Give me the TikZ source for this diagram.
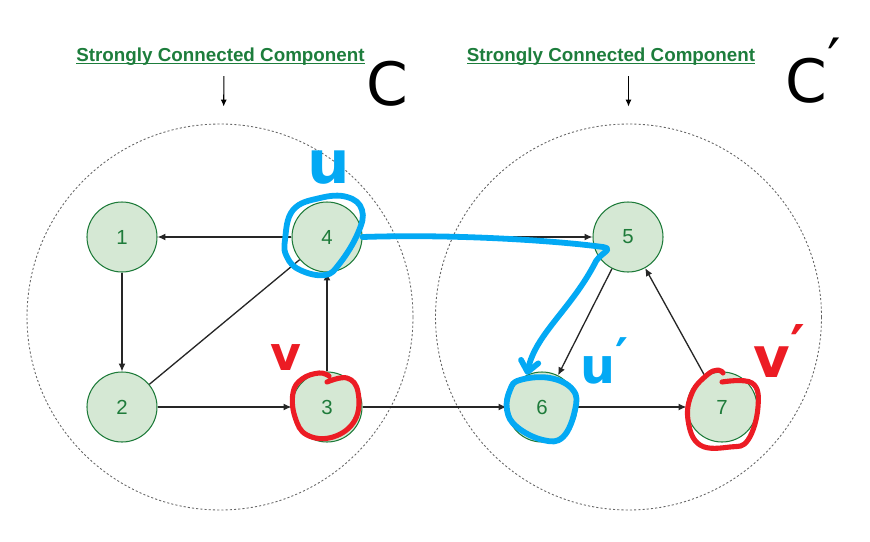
\documentclass[tikz,border=0pt]{standalone}
\usepackage{fontspec}
\setmainfont{Liberation Sans}
\newfontfamily\handfont{DejaVu Sans}
\usetikzlibrary{arrows.meta,positioning}
\definecolor{nodefill}{HTML}{D5E8D4}
\definecolor{nodeline}{HTML}{1E7B3A}
\definecolor{sccgreen}{HTML}{1D7D3C}
\definecolor{penblue}{HTML}{03A9F4}
\definecolor{penred}{HTML}{EC1C24}
\newcommand{\sccline}[1]{\underline{\raisebox{0pt}[\height][0pt]{#1}}}

\begin{document}
\begin{tikzpicture}
	[vertex/.style ={circle, draw=nodeline, fill=nodefill, text=nodeline, minimum size=1.4cm, inner sep=0pt, line width=0.6pt, font=\fontsize{11.6}{12}\selectfont},
	line/.style ={black!85, line width=0.75pt, -{Latex[length=4.5pt,width=4pt]}},
	thinline/.style ={black, line width=0.6pt, -{Latex[length=4pt,width=3.5pt]}, shorten <=3pt},
	scc/.style ={circle, draw=black!60, dash pattern=on 1.2pt off 1.2pt, line width=0.5pt, minimum size=7.72cm, inner sep=0pt},
	title/.style ={text=sccgreen, font=\bfseries\fontsize{10.7}{12}\selectfont},
	bigmark/.style ={inner sep=0pt, anchor=base west, font=\handfont\fontsize{#1}{#1}\selectfont},
	bigmark/.default=34,
	penmark/.style ={bigmark=#1, font=\handfont\bfseries\fontsize{#1}{#1}\selectfont},
	bluepen/.style ={draw=penblue, line width=3.3pt, line cap=round, line join=round},
	redpen/.style ={draw=penred, line width=2.9pt, line cap=round, line join=round},
	]
		\useasboundingbox (0,0) rectangle (17.4,-10.82);

		\draw (4.4,-6.34) node[scc] (S1) {};
		\draw (12.57,-6.34) node[scc] (S2) {};

		\draw (4.41,-1.12) node[title] (T1) {\sccline{Strongly Connected Component}};
		\draw (12.22,-1.12) node[title] (T2) {\sccline{Strongly Connected Component}};
		\draw (7.32,-2.1) node[bigmark=34] (C1) {C};
		\draw (15.7,-2.04) node[bigmark=34] (C2) {C\raisebox{.34em}{′}};

		\path[thinline]
		([xshift=0.07cm]T1.south) edge[shorten >=0.34cm] ([xshift=0.07cm]S1.north)
		(T2.south -| S2) edge[shorten >=0.34cm] (S2.north);

		\draw (2.44,-4.74) node[vertex] (n1) {1};
		\draw (6.54,-4.74) node[vertex] (n4) {4};
		\draw (2.44,-8.14) node[vertex] (n2) {2};
		\draw (6.54,-8.14) node[vertex] (n3) {3};
		\draw (12.56,-4.74) node[vertex] (n5) {5};
		\draw (10.84,-8.14) node[vertex] (n6) {6};
		\draw (14.44,-8.14) node[vertex] (n7) {7};

		\path[line]
		(n4) edge (n1)
		(n1) edge (n2)
		(n2) edge (n3)
		(n3) edge (n4)
		(n4) edge (n5)
		(n3) edge (n6)
		(n5) edge (n6)
		(n6) edge (n7)
		(n7) edge (n5);
		\path[line, -] (n2) edge (n4);

		\begin{scope}[shift={(n4.center)}]
			\draw[bluepen] plot[smooth cycle, tension=0.7] coordinates {(-0.68,0.54) (-0.14,0.78) (0.4,0.8) (0.7,0.54) (0.62,0.08) (0.26,-0.52) (-0.04,-0.76) (-0.54,-0.66) (-0.8,-0.4) (-0.84,-0.06)};
		\end{scope}
		\begin{scope}[shift={(n6.center)}]
			\draw[bluepen] plot[smooth cycle, tension=0.7] coordinates {(-0.44,0.54) (0.16,0.58) (0.62,0.34) (0.66,-0.06) (0.42,-0.6) (0.02,-0.66) (-0.5,-0.4) (-0.7,-0.06) (-0.64,0.34)};
		\end{scope}
		\begin{scope}[shift={(n3.center)}]
			\draw[redpen] plot[smooth, tension=0.7] coordinates {(0,0.5) (0.4,0.58) (0.62,0.3) (0.56,-0.26) (0.12,-0.6) (-0.4,-0.56) (-0.64,-0.2) (-0.68,0.28) (-0.5,0.56) (-0.16,0.68) (0.04,0.62)};
		\end{scope}
		\begin{scope}[shift={(n7.center)}]
			\draw[redpen] plot[smooth, tension=0.7] coordinates {(0,0.5) (0.6,0.48) (0.72,0) (0.52,-0.66) (0.16,-0.8) (-0.44,-0.76) (-0.68,-0.26) (-0.6,0.28) (-0.3,0.64) (-0.08,0.74) (0.02,0.68)};
		\end{scope}

		\draw[bluepen, -{Straight Barb[length=6pt,width=10pt,round]}] (n4.east) .. controls (9,-4.68) and (11,-4.8) .. (12.06,-4.94) to[out=-10,in=70,looseness=1.6] (11.88,-5.3) .. controls (11.4,-6.2) and (10.7,-6.7) .. (n6.115);

		\draw (6.14,-3.66) node[penmark=34, text=penblue] (U) {u};
		\draw (5.4,-7.4) node[penmark=27, text=penred] (V) {v};
		\draw (11.6,-7.66) node[penmark=28, text=penblue] (U2) {u\raisebox{.2em}{′}};
		\draw (15.06,-7.54) node[penmark=32, text=penred] (V2) {v\raisebox{.2em}{′}};
	\end{tikzpicture}
\end{document}
